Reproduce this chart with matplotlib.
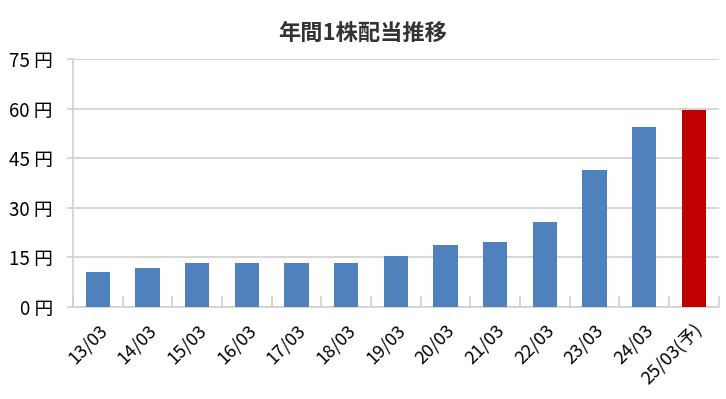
import matplotlib
matplotlib.use("Agg")
import matplotlib.pyplot as plt
import numpy as np

plt.rcParams["font.family"] = ["Noto Sans CJK JP", "DejaVu Sans"]

YEARS = ["13/03", "14/03", "15/03", "16/03", "17/03", "18/03", "19/03",
         "20/03", "21/03", "22/03", "23/03", "24/03", "25/03(予)"]
DIVIDEND = [10.5, 11.9, 13.3, 13.3, 13.3, 13.3, 15.5,
            18.7, 19.7, 25.6, 41.4, 54.5, 59.6]
IS_FORECAST = [False] * 12 + [True]
Y_TICKS = [0, 15, 30, 45, 60, 75]

BLUE = "#4F81BD"
RED = "#C00000"
GRID = "#D0D0D0"

fig = plt.figure(figsize=(7.26, 3.99), dpi=100)
ax = fig.add_axes([0.1006, 0.2306, 0.8894, 0.6214])

x = np.arange(len(YEARS))
colors = [RED if f else BLUE for f in IS_FORECAST]
ax.bar(x, DIVIDEND, width=0.49, color=colors, zorder=3)

ax.set_xlim(-0.5, len(YEARS) - 0.5)
ax.set_ylim(0, 75)
ax.set_yticks(Y_TICKS)
ax.set_yticklabels([f"{v} 円" for v in Y_TICKS], fontsize=13.5)
ax.tick_params(axis="y", length=4.5, width=1.2, color=GRID, pad=10)
ax.grid(axis="y", color=GRID, linewidth=1.2, zorder=0)

# カテゴリ境界の目盛り（内向き）
ax.set_xticks(np.arange(-0.5, len(YEARS)), minor=True)
ax.tick_params(axis="x", which="minor", direction="in", length=8,
               color=GRID, width=1.2)
ax.set_xticks(x)
ax.set_xticklabels(YEARS, fontsize=13, rotation=45, ha="right",
                   rotation_mode="anchor")
ax.tick_params(axis="x", which="major", length=0, pad=10)

for side in ["top", "right"]:
    ax.spines[side].set_visible(False)
for side in ["left", "bottom"]:
    ax.spines[side].set_color(GRID)
    ax.spines[side].set_linewidth(1.2)

fig.text(0.5, 0.917, "年間1株配当推移", fontsize=16, fontweight="bold",
         color="#333333", ha="center", va="center")

fig.savefig("out.png", dpi=100)
